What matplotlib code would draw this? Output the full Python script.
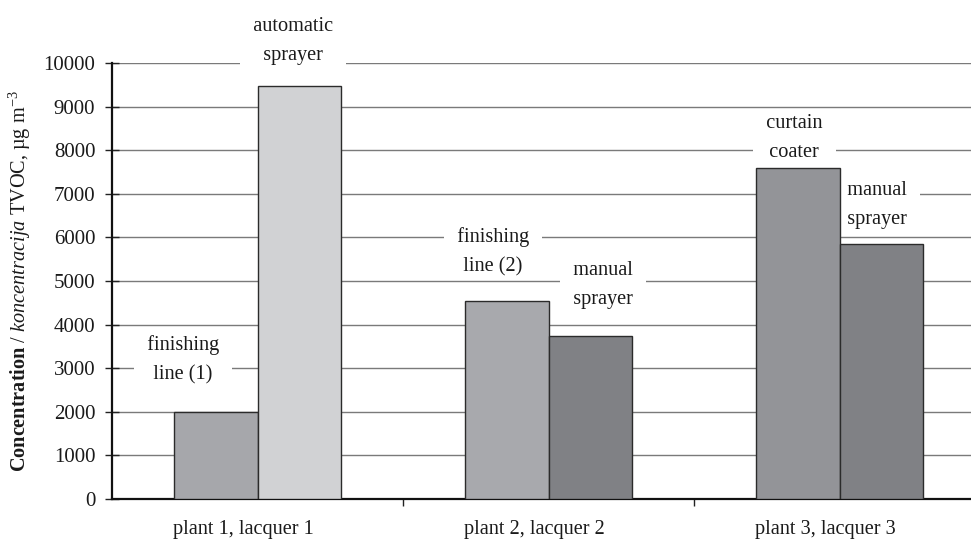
import matplotlib
matplotlib.use("Agg")
import matplotlib.pyplot as plt
import numpy as np

plt.rcParams['font.family'] = ['Liberation Serif', 'DejaVu Serif']
plt.rcParams['mathtext.fontset'] = 'custom'
plt.rcParams['mathtext.rm'] = 'Liberation Serif'
plt.rcParams['mathtext.it'] = 'Liberation Serif:italic'
plt.rcParams['mathtext.bf'] = 'Liberation Serif:bold'

categories = ["plant 1, lacquer 1", "plant 2, lacquer 2", "plant 3, lacquer 3"]
left_vals = [2000, 4550, 7600]
right_vals = [9480, 3730, 5860]
left_colors = ["#a6a7ab", "#a8a9ad", "#939498"]
right_colors = ["#d1d2d4", "#808185", "#808185"]

# bar labels (text, x in category units, y in data units)
bar_labels = ["finishing\nline (1)", "automatic\nsprayer",
              "finishing\nline (2)", "manual\nsprayer",
              "curtain\ncoater", "manual\nsprayer"]
label_x = [-0.256, 0.122, 0.809, 1.187, 1.844, 2.129]
label_y = [3200, 10500, 5670, 4900, 8280, 6750]

fs = 14.6

fig = plt.figure(figsize=(9.71, 5.40), dpi=100)
ax = fig.add_axes([112/971, 1-499/540, (985-112)/971, (499-63)/540])

x = np.arange(len(categories))
w = 0.287
ax.bar(x - w/2, left_vals, w, color=left_colors, edgecolor="#2b2b2b", linewidth=1.0, zorder=3)
ax.bar(x + w/2, right_vals, w, color=right_colors, edgecolor="#2b2b2b", linewidth=1.0, zorder=3)

for t, lx, ly in zip(bar_labels, label_x, label_y):
    ax.text(lx, ly, "  " + t.replace("\n", "  \n  ") + "  ", ha="center", va="center",
            fontsize=fs, color="#1a1a1a", linespacing=1.7, clip_on=False, zorder=2.5,
            bbox=dict(boxstyle="square,pad=0.15", facecolor="white", edgecolor="none"))

ax.set_xlim(-0.5, 2.5)
ax.set_ylim(0, 10000)
ax.set_yticks(np.arange(0, 10001, 1000))
ax.yaxis.grid(True, color="#7a7a7a", linewidth=1.0, zorder=0)
ax.set_axisbelow(True)

ax.set_xticks([0.5, 1.5, 2.5])
ax.set_xticklabels([])
ax.set_xticks(x - 0.05, minor=True)
ax.set_xticklabels(categories, minor=True, fontsize=fs)
ax.tick_params(axis="x", which="major", direction="out", length=5, width=1, color="#222222")
ax.tick_params(axis="x", which="minor", length=0, pad=15, colors="#1a1a1a")
ax.tick_params(axis="y", direction="inout", length=10, width=1, pad=7, labelsize=15,
               color="#222222", labelcolor="#1a1a1a")

for s in ["top", "right"]:
    ax.spines[s].set_visible(False)
ax.spines["left"].set_linewidth(1.6)
ax.spines["bottom"].set_linewidth(1.6)
ax.spines["left"].set_color("#111111")
ax.spines["bottom"].set_color("#111111")

ax.set_ylabel(r"$\mathbf{Concentration}$ / $\mathit{koncentracija}$ TVOC, µg m$^{-3}$",
              fontsize=14.6, color="#1a1a1a")
ax.yaxis.set_label_coords(-0.09, 0.5)

fig.savefig("out.png", dpi=100)
